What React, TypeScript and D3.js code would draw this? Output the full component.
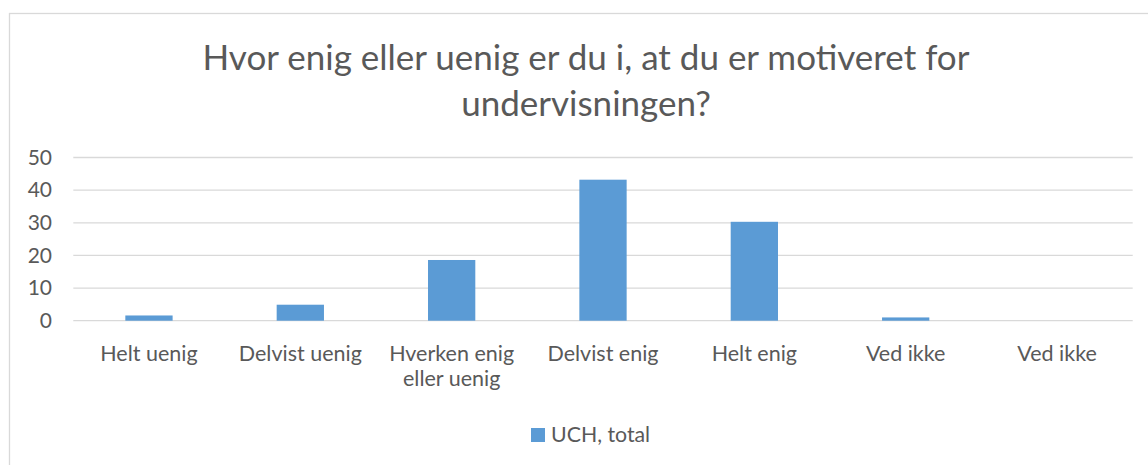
import React from "react";
import * as d3 from "d3";

const categories: string[][] = [
  ["Helt uenig"],
  ["Delvist uenig"],
  ["Hverken enig", "eller uenig"],
  ["Delvist enig"],
  ["Helt enig"],
  ["Ved ikke"],
  ["Ved ikke"],
];
const values: number[] = [1.6, 4.9, 18.6, 43.2, 30.3, 1.0, 0];
const yTicks: number[] = [0, 10, 20, 30, 40, 50];
const titleLines: string[] = [
  "Hvor enig eller uenig er du i, at du er motiveret for",
  "undervisningen?",
];
const seriesName = "UCH, total";

const W = 1148;
const H = 465;
const FONT = "Lato, Calibri, 'Open Sans', sans-serif";
const TEXT = "#595959";
const GRID = "#d9d9d9";
const BAR = "#5b9bd5";

export default function App() {
  const plotLeft = 73.3;
  const plotRight = 1132.7;
  const plotTop = 157.5;
  const plotBottom = 320.7;

  const x = d3
    .scaleBand<number>()
    .domain(categories.map((_, i) => i))
    .range([plotLeft, plotRight])
    .paddingInner(0)
    .paddingOuter(0);
  const y = d3.scaleLinear().domain([0, 50]).range([plotBottom, plotTop]);
  const barW = x.bandwidth() * 0.3125;

  return (
    <svg
      width={W}
      height={H}
      style={{ position: "absolute", left: 0, top: 0, background: "#fff" }}
      fontFamily={FONT}
    >
      <rect x={0} y={0} width={W} height={H} fill="#fff" />
      <rect
        x={9.5}
        y={13.5}
        width={W + 20}
        height={H + 20}
        fill="none"
        stroke={GRID}
        strokeWidth={1.3}
      />
      {titleLines.map((t, i) => (
        <text
          key={i}
          x={586}
          y={70 + i * 46}
          textAnchor="middle"
          fontSize={35}
          fill={TEXT}
        >
          {t}
        </text>
      ))}
      {yTicks.map((t) => (
        <g key={t}>
          <line
            x1={plotLeft}
            x2={plotRight}
            y1={y(t)}
            y2={y(t)}
            stroke={GRID}
            strokeWidth={1.3}
          />
          <text
            x={52}
            y={y(t)}
            dy="0.35em"
            textAnchor="end"
            fontSize={21}
            fill={TEXT}
          >
            {t}
          </text>
        </g>
      ))}
      {values.map((v, i) => (
        <rect
          key={i}
          x={(x(i) as number) + x.bandwidth() / 2 - barW / 2}
          y={y(v)}
          width={barW}
          height={y(0) - y(v)}
          fill={BAR}
        />
      ))}
      {categories.map((lines, i) => (
        <text
          key={i}
          x={(x(i) as number) + x.bandwidth() / 2}
          y={361}
          textAnchor="middle"
          fontSize={21.5}
          fill={TEXT}
        >
          {lines.map((l, j) => (
            <tspan key={j} x={(x(i) as number) + x.bandwidth() / 2} dy={j === 0 ? 0 : 25}>
              {l}
            </tspan>
          ))}
        </text>
      ))}
      <rect x={531} y={428} width={14} height={14} fill={BAR} />
      <text x={551} y={442} fontSize={21.3} fill={TEXT}>
        {seriesName}
      </text>
    </svg>
  );
}
